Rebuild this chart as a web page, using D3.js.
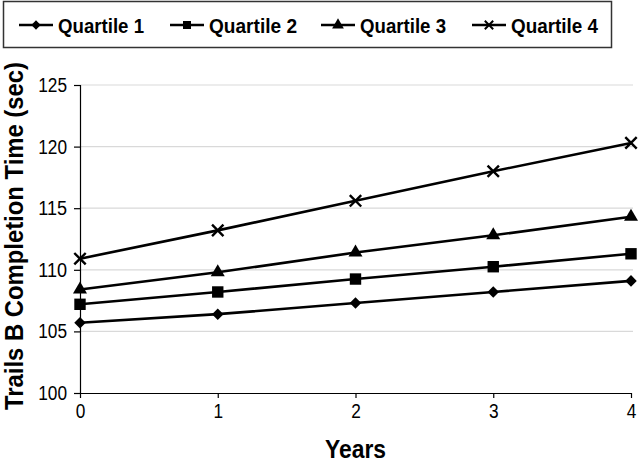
<!DOCTYPE html>
<html><head><meta charset="utf-8">
<script src="https://cdn.jsdelivr.net/npm/d3@7"></script>
<style>
html,body{margin:0;padding:0;background:#fff;}
svg{display:block;}
text{font-family:"Liberation Sans Narrow","Arial Narrow","Liberation Sans",Arial,sans-serif;fill:#000;}
</style></head>
<body><svg id="c" width="640" height="462"></svg>
<script>
const years = [0, 1, 2, 3, 4];
const seriesNames = ["Quartile 1", "Quartile 2", "Quartile 3", "Quartile 4"];
const q1 = [105.7, 106.4, 107.3, 108.2, 109.1];
const q2 = [107.2, 108.2, 109.25, 110.25, 111.3];
const q3 = [108.4, 109.8, 111.4, 112.8, 114.3];
const q4 = [110.9, 113.2, 115.6, 118.0, 120.3];
const yTicks = [100, 105, 110, 115, 120, 125];
const xTicks = [0, 1, 2, 3, 4];

const svg = d3.select("#c");
const x = d3.scaleLinear().domain([0, 4]).range([80, 631]);
const y = d3.scaleLinear().domain([100, 125]).range([393, 85]);

const crossSym = {draw(ctx, size){const r=Math.sqrt(size)/2;ctx.moveTo(-r,-r);ctx.lineTo(r,r);ctx.moveTo(r,-r);ctx.lineTo(-r,r);}};
const symbols = [
  {type: d3.symbolDiamond2, size: 85, fill: true},
  {type: d3.symbolSquare, size: 130, fill: true},
  {type: d3.symbolTriangle, size: 85, fill: true},
  {type: crossSym, size: 130, fill: false}
];
const series = [q1, q2, q3, q4];

// gridlines
svg.append("g").selectAll("line").data(yTicks.filter(d => d > 100)).join("line")
  .attr("x1", x(0)).attr("x2", 633)
  .attr("y1", d => y(d)).attr("y2", d => y(d))
  .attr("stroke", "#d9d9d9").attr("stroke-width", 1.2);

// axes
const yAxis = svg.append("g").attr("transform", `translate(${x(0)},0)`)
  .call(d3.axisLeft(y).tickValues(yTicks).tickSize(6).tickPadding(7).tickFormat(d3.format("d")));
const xAxis = svg.append("g").attr("transform", `translate(0,${y(100)})`)
  .call(d3.axisBottom(x).tickValues(xTicks).tickSize(5).tickPadding(6).tickFormat(d3.format("d")));
[yAxis, xAxis].forEach(a => {
  a.select(".domain").attr("stroke", "#000").attr("stroke-width", 1.2);
  a.selectAll(".tick line").attr("stroke", "#000").attr("stroke-width", 1.2);
  a.selectAll("text").style("font-size", "20px").attr("fill", "#000")
    .attr("textLength", d => String(d).length * 9.6).attr("lengthAdjust", "spacingAndGlyphs");
});
xAxis.select(".domain").attr("d", `M${x(0)},0.5H${x(4)}`);

// lines
const line = d3.line().x((d, i) => x(years[i])).y(d => y(d));
series.forEach((s, k) => {
  svg.append("path").datum(s).attr("d", line)
    .attr("fill", "none").attr("stroke", "#000").attr("stroke-width", 2.6);
  const sym = symbols[k];
  svg.append("g").selectAll("path").data(s).join("path")
    .attr("transform", (d, i) => `translate(${x(years[i])},${y(d)})`)
    .attr("d", d3.symbol().type(sym.type).size(sym.size))
    .attr("fill", sym.fill ? "#000" : "none")
    .attr("stroke", "#000").attr("stroke-width", sym.fill ? 0 : 2.4);
});

// axis titles
svg.append("text").attr("x", 355.5).attr("y", 458).attr("text-anchor", "middle")
  .style("font-size", "25px").style("font-weight", "bold")
  .attr("textLength", 61).attr("lengthAdjust", "spacingAndGlyphs").text("Years");
svg.append("text").attr("transform", "translate(23,236) rotate(-90)").attr("text-anchor", "middle")
  .style("font-size", "26px").style("font-weight", "bold")
  .attr("textLength", 348).attr("lengthAdjust", "spacingAndGlyphs")
  .text("Trails B Completion Time (sec)");

// legend
svg.append("rect").attr("x", 3.5).attr("y", 1.5).attr("width", 608).attr("height", 46)
  .attr("fill", "none").attr("stroke", "#333").attr("stroke-width", 1.5);
const legX = [19, 170, 321, 472];
const legTextW = [86, 88, 86, 87];
const legSize = [55, 65, 60, 70];
seriesNames.forEach((n, k) => {
  const g = svg.append("g").attr("transform", `translate(${legX[k]},25)`);
  g.append("line").attr("x1", 0).attr("x2", 34).attr("y1", 0).attr("y2", 0)
    .attr("stroke", "#000").attr("stroke-width", 2.4);
  const sym = symbols[k];
  g.append("path").attr("transform", "translate(17,0)")
    .attr("d", d3.symbol().type(sym.type).size(legSize[k]))
    .attr("fill", sym.fill ? "#000" : "none")
    .attr("stroke", "#000").attr("stroke-width", sym.fill ? 0 : 2);
  g.append("text").attr("x", 39).attr("y", 7.5)
    .style("font-size", "21px").style("font-weight", "bold")
    .attr("textLength", legTextW[k]).attr("lengthAdjust", "spacingAndGlyphs").text(n);
});
</script></body></html>
